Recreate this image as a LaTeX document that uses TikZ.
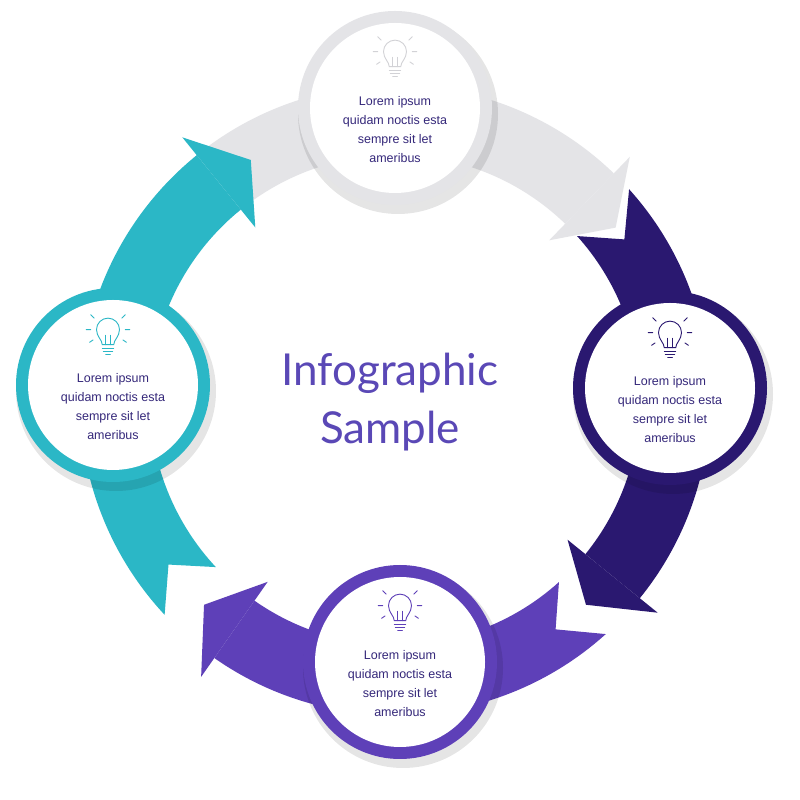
\documentclass[tikz,border=0pt]{standalone}
\usepackage{fontspec}
\setmainfont{Liberation Sans}
\newfontfamily\titlefont{Lato}
\definecolor{cgray}{HTML}{E4E4E7}
\definecolor{cgrayd}{HTML}{D2D2D6}
\definecolor{cnavy}{HTML}{2A1870}
\definecolor{cpurple}{HTML}{5E40B8}
\definecolor{cteal}{HTML}{2BB7C6}
\definecolor{ctext}{HTML}{35287A}
\definecolor{ctitle}{HTML}{5A48B6}
\tikzset{
  txt/.style={align=center,font=\fontsize{12.5}{19}\selectfont,text=ctext},
  ring/.style={circle,minimum size=194pt,inner sep=0pt},
  inner/.style={circle,fill=white,minimum size=170pt,inner sep=0pt},
}
\newcommand{\bandtail}[3]{% start, headbase, color
  \fill[#3] (#1:315) arc[start angle=#1,end angle=#2,radius=315] -- (#2:245)
     arc[start angle=#2,end angle=#1,radius=245] -- ({#1-7}:280) -- cycle;}
\newcommand{\bandhead}[3]{% headbase, tip, color
  \fill[#3] (#1:338) -- (#2:280) -- (#1:222) -- cycle;}
\newcommand{\bulb}[2]{% position, color
  \begin{scope}[shift={#1},scale=1.15,draw=#2,line width=0.9pt,line cap=round]
   \draw (-5,-4) .. controls (-5,0) and (-10,3) .. (-10,9) arc[start angle=180,end angle=0,radius=10]
        .. controls (10,3) and (5,0) .. (5,-4) -- cycle;
   \draw (-5,-7) -- (5,-7) (-4,-10) -- (4,-10) (-2,-13) -- (2,-13);
   \draw (-2,-4) -- (-2,4) (2,-4) -- (2,4);
   \draw (-15,9) -- (-19,9) (15,9) -- (19,9) (-12,19) -- (-15,22) (12,19) -- (15,22) (-13,0) -- (-16,-2) (13,0) -- (16,-2);
  \end{scope}}
\begin{document}
\begin{tikzpicture}[x=1pt,y=1pt]
\useasboundingbox (0,0) rectangle (800,800);
\fill[white] (0,0) rectangle (800,800);
\begin{scope}[shift={(395,400)}]
 \bandtail{130}{46}{cgray}
 \bandtail{42}{-39}{cnavy}
 \bandtail{-48}{-125}{cpurple}
 \bandtail{-137}{-231}{cteal}
 \bandhead{46}{38}{cgray}
 \bandhead{-39}{-47}{cnavy}
 \bandhead{-125}{-133}{cpurple}
 \bandhead{-231}{-239}{cteal}
\end{scope}
\foreach \n/\x/\y/\c in {t/395/692/cgray,r/670/412/cnavy,b/400/138/cpurple,l/113/415/cteal}{
  \fill[black,opacity=0.10] (\x+3,\y-6) circle (100);
  \node[ring,fill=\c] (\n) at (\x,\y) {};
  \node[inner] (\n i) at (\x,\y) {};
  \node[txt] (\n t) at (\x,\y-22) {Lorem ipsum\\quidam noctis esta\\sempre sit let\\ameribus};
}
\bulb{(395,738)}{cgrayd}
\bulb{(670,457)}{cnavy}
\bulb{(400,184)}{cpurple}
\bulb{(108,460)}{cteal}
\node[align=center,font=\titlefont\fontsize{44}{58}\selectfont,text=ctitle] (title) at (390,398) {Infographic\\Sample};
\end{tikzpicture}
\end{document}
